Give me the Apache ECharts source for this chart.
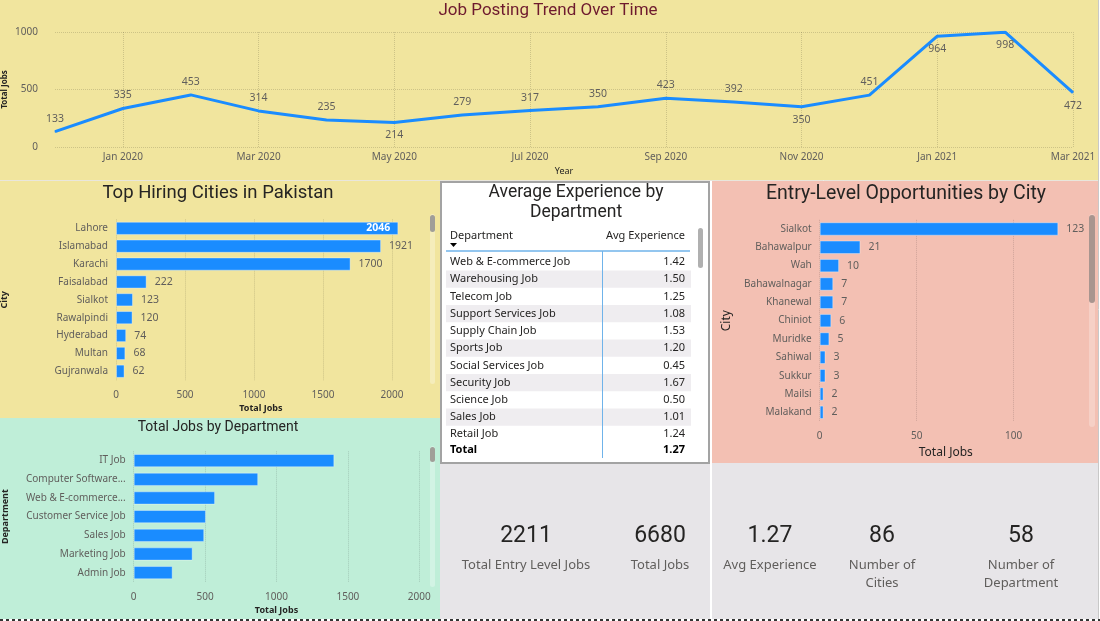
<!DOCTYPE html>
<html>
<head>
<meta charset="utf-8">
<title>Pakistan Job Market Dashboard</title>
<script src="https://cdn.jsdelivr.net/npm/echarts@6/dist/echarts.min.js"></script>
<style>
  html, body { margin: 0; padding: 0; background: #fff; }
  #wrap { position: relative; width: 1100px; height: 621px; overflow: hidden; }
  .panel { position: absolute; }
  #chart { position: absolute; left: 0; top: 0; width: 1100px; height: 621px; }
</style>
</head>
<body>
<div id="wrap">
  <div class="panel" style="left:0;top:0;width:1098px;height:180px;background:#f1e59e"></div>
  <div class="panel" style="left:0;top:181px;width:440px;height:237px;background:#f1e59e"></div>
  <div class="panel" style="left:0;top:418px;width:440px;height:201px;background:#bfeed8"></div>
  <div class="panel" style="left:440px;top:181px;width:270px;height:283px;background:#fff;box-sizing:border-box;border:2px solid #a3a3a3"></div>
  <div class="panel" style="left:712px;top:181px;width:386px;height:282px;background:#f3c0b3"></div>
  <div class="panel" style="left:440px;top:464px;width:270px;height:155px;background:#e7e5e8"></div>
  <div class="panel" style="left:712px;top:463px;width:386px;height:156px;background:#e7e5e8"></div>
  <div id="chart"></div>
</div>
<script>
// monthly postings
const months = ["Dec 2019", "Jan 2020", "Feb 2020", "Mar 2020", "Apr 2020", "May 2020",
  "Jun 2020", "Jul 2020", "Aug 2020", "Sep 2020", "Oct 2020", "Nov 2020", "Dec 2020",
  "Jan 2021", "Feb 2021", "Mar 2021"];
const monthlyJobs = [133, 335, 453, 314, 235, 214, 279, 317, 350, 423, 392, 350, 451, 964, 998, 472];

// top hiring cities
const topCities = ["Lahore", "Islamabad", "Karachi", "Faisalabad", "Sialkot", "Rawalpindi",
  "Hyderabad", "Multan", "Gujranwala"];
const topCityJobs = [2046, 1921, 1700, 222, 123, 120, 74, 68, 62];

// jobs by department
const departments = ["IT Job", "Computer Software Job", "Web & E-commerce Job",
  "Customer Service Job", "Sales Job", "Marketing Job", "Admin Job"];
const departmentJobs = [1405, 872, 570, 506, 494, 413, 273];

// entry level by city
const entryCities = ["Sialkot", "Bahawalpur", "Wah", "Bahawalnagar", "Khanewal", "Chiniot",
  "Muridke", "Sahiwal", "Sukkur", "Mailsi", "Malakand"];
const entryCityJobs = [123, 21, 10, 7, 7, 6, 5, 3, 3, 2, 2];

// avg experience table
const expDepartments = ["Web & E-commerce Job", "Warehousing Job", "Telecom Job",
  "Support Services Job", "Supply Chain Job", "Sports Job", "Social Services Job",
  "Security Job", "Science Job", "Sales Job", "Retail Job"];
const avgExperience = [1.42, 1.50, 1.25, 1.08, 1.53, 1.20, 0.45, 1.67, 0.50, 1.01, 1.24];
const avgExperienceTotal = 1.27;

// cards
const kpiValues = ["2211", "6680", "1.27", "86", "58"];
const kpiLabels = ["Total Entry Level Jobs", "Total Jobs", "Avg Experience",
  "Number of\nCities", "Number of\nDepartment"];

const BLUE = "#1a8cff";
const LABEL = "#605e5c";
const DARK = "#252423";
const SANS = "'Noto Sans', 'Open Sans', sans-serif";
const HEAD = "Roboto, 'Noto Sans', sans-serif";
const gridLine = { type: "dotted", color: "rgba(0,0,0,0.15)" };
const plain = (v) => String(v);

// which trend labels sit under the line
const belowLabels = [5, 11, 13, 14, 15];
const oddMonth = (i) => i % 2 === 1;

// department labels get cut like Power BI does: keep what fits "Customer Service Job"
const measure = document.createElement("canvas").getContext("2d");
measure.font = `10px ${SANS}`;
const deptLabelWidth = Math.ceil(measure.measureText("Customer Service Job").width) + 2;

const txt = (text, x, y, font, fill, align) => ({
  type: "text",
  silent: true,
  style: {
    text, x, y, font, fill,
    textAlign: align || "center", align: align || "center",
    textVerticalAlign: "middle", verticalAlign: "middle",
  },
});

const rect = (x, y, w, h, fill, r) => ({
  type: "rect",
  silent: true,
  shape: { x, y, width: w, height: h, r: r || 0 },
  style: { fill },
});

const graphics = [];

// titles
graphics.push(txt("Job Posting Trend Over Time", 548, 11, `17px ${HEAD}`, "#6e1a2e"));
graphics.push(txt("Top Hiring Cities in Pakistan", 218, 193, `18.5px ${HEAD}`, DARK));
graphics.push(txt("Total Jobs by Department", 218, 427, `14px ${HEAD}`, DARK));
graphics.push(txt("Average Experience by", 576, 193, `17.5px ${HEAD}`, DARK));
graphics.push(txt("Department", 576, 213, `17.5px ${HEAD}`, DARK));
graphics.push(txt("Entry-Level Opportunities by City", 906, 194, `19.5px ${HEAD}`, DARK));

// table
const rowTop = 262;
const rowStep = 17.23;
expDepartments.forEach((d, i) => {
  const y = rowTop + i * rowStep;
  if (i % 2 === 1) graphics.push(rect(446, y - rowStep / 2, 245, rowStep, "#efedf0"));
  graphics.push(txt(d, 450, y, `11px ${SANS}`, DARK, "left"));
  graphics.push(txt(avgExperience[i].toFixed(2), 685, y, `11px ${SANS}`, DARK, "right"));
});
graphics.push(txt("Total", 450, 450, `bold 11px ${SANS}`, "#000", "left"));
graphics.push(txt(avgExperienceTotal.toFixed(2), 685, 450, `bold 11px ${SANS}`, "#000", "right"));
graphics.push(txt("Department", 450, 236, `11px ${SANS}`, DARK, "left"));
graphics.push(txt("Avg Experience", 685, 236, `11px ${SANS}`, DARK, "right"));
graphics.push({
  type: "polygon", silent: true,
  shape: { points: [[450, 243], [457, 243], [453.5, 247]] },
  style: { fill: "#000" },
});
graphics.push({
  type: "line", silent: true,
  shape: { x1: 446, y1: 251, x2: 690, y2: 251 },
  style: { stroke: "#6fb3ea", lineWidth: 1.5 },
});
graphics.push({
  type: "line", silent: true,
  shape: { x1: 602.5, y1: 251, x2: 602.5, y2: 458 },
  style: { stroke: "#6fb3ea", lineWidth: 1 },
});

// scrollbars
graphics.push(rect(430, 214, 5, 170, "rgba(255,255,255,0.3)", 2.5));
graphics.push(rect(430, 215, 5, 17, "#a09e98", 2.5));
graphics.push(rect(430, 446, 5, 141, "rgba(255,255,255,0.3)", 2.5));
graphics.push(rect(430, 447, 5, 15, "#a09e98", 2.5));
graphics.push(rect(1089, 214, 6, 213, "rgba(255,255,255,0.25)", 3));
graphics.push(rect(1089, 215, 6, 88, "#a8958f", 3));
graphics.push(rect(698, 228, 5, 40, "#b0b0b0", 2.5));

// cards
const cardX = [526, 660, 770, 882, 1021];
kpiValues.forEach((v, i) => {
  graphics.push(txt(v, cardX[i], 536, `23px ${HEAD}`, DARK));
  graphics.push({
    type: "text", silent: true,
    style: {
      text: kpiLabels[i], x: cardX[i], y: 556, font: `13px ${SANS}`, fill: LABEL,
      textAlign: "center", align: "center", lineHeight: 18,
      textVerticalAlign: "top", verticalAlign: "top",
    },
  });
});

// separators
graphics.push({
  type: "line", silent: true,
  shape: { x1: 0, y1: 180.5, x2: 1098, y2: 180.5 },
  style: { stroke: "#e9e6dc", lineWidth: 1 },
});
graphics.push({
  type: "line", silent: true,
  shape: { x1: 1098.5, y1: 0, x2: 1098.5, y2: 619 },
  style: { stroke: "#c8c8c8", lineWidth: 1 },
});
graphics.push({
  type: "line", silent: true,
  shape: { x1: 0, y1: 620, x2: 1100, y2: 620 },
  style: { stroke: "#333", lineWidth: 2, lineDash: [3, 3] },
});

const catAxis = (gridIndex, data, name, nameGap, nameSize, extra) => Object.assign({
  type: "category",
  gridIndex,
  data,
  inverse: true,
  axisLine: { show: false },
  axisTick: { show: false },
  axisLabel: { color: LABEL, fontSize: 10, fontFamily: SANS, margin: 8 },
  name,
  nameLocation: "middle",
  nameGap,
  nameRotate: 90,
  nameTextStyle: { color: DARK, fontSize: nameSize, fontFamily: SANS, fontWeight: nameSize < 11 ? "bold" : "normal" },
}, extra || {});

const valAxis = (gridIndex, max, interval, nameGap, nameSize) => ({
  type: "value",
  gridIndex,
  min: 0,
  max,
  interval,
  axisLine: { show: false },
  axisTick: { show: false },
  axisLabel: { color: LABEL, fontSize: 10, fontFamily: SANS, margin: 10, formatter: plain, showMaxLabel: max % interval === 0 },
  splitLine: { show: true, showMaxLine: max % interval === 0, lineStyle: gridLine },
  name: "Total Jobs",
  nameLocation: "middle",
  nameGap,
  nameTextStyle: { color: DARK, fontSize: nameSize, fontFamily: SANS, fontWeight: nameSize < 11 ? "bold" : "normal" },
});

const barSeries = (idx, data, gap, labelled) => ({
  type: "bar",
  xAxisIndex: idx,
  yAxisIndex: idx,
  data,
  barCategoryGap: gap,
  itemStyle: { color: BLUE, borderColor: "rgba(255,255,255,0.35)", borderWidth: 1 },
  label: labelled ? { show: true, position: "right", distance: 8, color: LABEL, fontSize: 10.5, fontFamily: SANS } : { show: false },
  silent: true,
});

const topMax = Math.max(...topCityJobs);
const topCityData = topCityJobs.map((v) => v === topMax
  ? { value: v, label: { position: "insideRight", color: "#fff", fontWeight: "bold", distance: 8 } }
  : v);

const trendData = monthlyJobs.map((v, i) => belowLabels.includes(i)
  ? { value: v, label: { position: "bottom" } }
  : v);

const chart = echarts.init(document.getElementById("chart"), null, { renderer: "canvas" });

const gridBox = (left, top, width, height) => ({
  left, top, width, height, containLabel: false, outerBoundsMode: "none",
});

chart.setOption({
  backgroundColor: "transparent",
  animation: false,
  grid: [
    gridBox(55, 32, 1018, 115),
    gridBox(116, 219.4, 289.8, 160.8),
    gridBox(133.7, 451.3, 285.6, 130.7),
    gridBox(819.7, 219.8, 252.2, 201.7),
  ],
  xAxis: [
    {
      type: "category",
      gridIndex: 0,
      data: months,
      boundaryGap: false,
      axisLine: { show: false },
      axisTick: { show: false },
      axisLabel: { interval: (i) => oddMonth(i), color: LABEL, fontSize: 10, fontFamily: SANS, margin: 5 },
      splitLine: { show: true, interval: (i) => oddMonth(i), lineStyle: gridLine },
      name: "Year",
      nameLocation: "middle",
      nameGap: 20,
      nameTextStyle: { color: DARK, fontSize: 9, fontFamily: SANS },
    },
    valAxis(1, 2100, 500, 24, 9),
    valAxis(2, 2000, 500, 24, 9),
    valAxis(3, 130, 50, 25, 12),
  ],
  yAxis: [
    {
      type: "value",
      gridIndex: 0,
      min: 0,
      max: 1000,
      interval: 500,
      axisLine: { show: false },
      axisTick: { show: false },
      axisLabel: { color: LABEL, fontSize: 10, fontFamily: SANS, margin: 17, formatter: plain },
      splitLine: { show: true, lineStyle: gridLine },
      name: "Total Jobs",
      nameLocation: "middle",
      nameGap: 46,
      nameMoveOverlap: false,
      nameRotate: 90,
      nameTextStyle: { color: DARK, fontSize: 8, fontFamily: SANS, fontWeight: "bold" },
    },
    catAxis(1, topCities, "City", 107, 9),
    catAxis(2, departments, "Department", 124, 9, {
      axisLabel: { color: LABEL, fontSize: 10, fontFamily: SANS, margin: 8, width: deptLabelWidth, overflow: "truncate", ellipsis: "..." },
    }),
    catAxis(3, entryCities, "City", 87, 12),
  ],
  series: [
    {
      type: "line",
      xAxisIndex: 0,
      yAxisIndex: 0,
      data: trendData,
      symbol: "circle",
      symbolSize: 1,
      showSymbol: true,
      itemStyle: { color: BLUE },
      lineStyle: { color: BLUE, width: 3 },
      label: { show: true, position: "top", distance: 7, color: LABEL, fontSize: 10.5, fontFamily: SANS },
      labelLayout: { hideOverlap: false },
      silent: true,
    },
    barSeries(1, topCityData, "26%", true),
    barSeries(2, departmentJobs, "29%", false),
    barSeries(3, entryCityJobs, "27%", true),
  ],
  graphic: { elements: graphics },
});
</script>
</body>
</html>
